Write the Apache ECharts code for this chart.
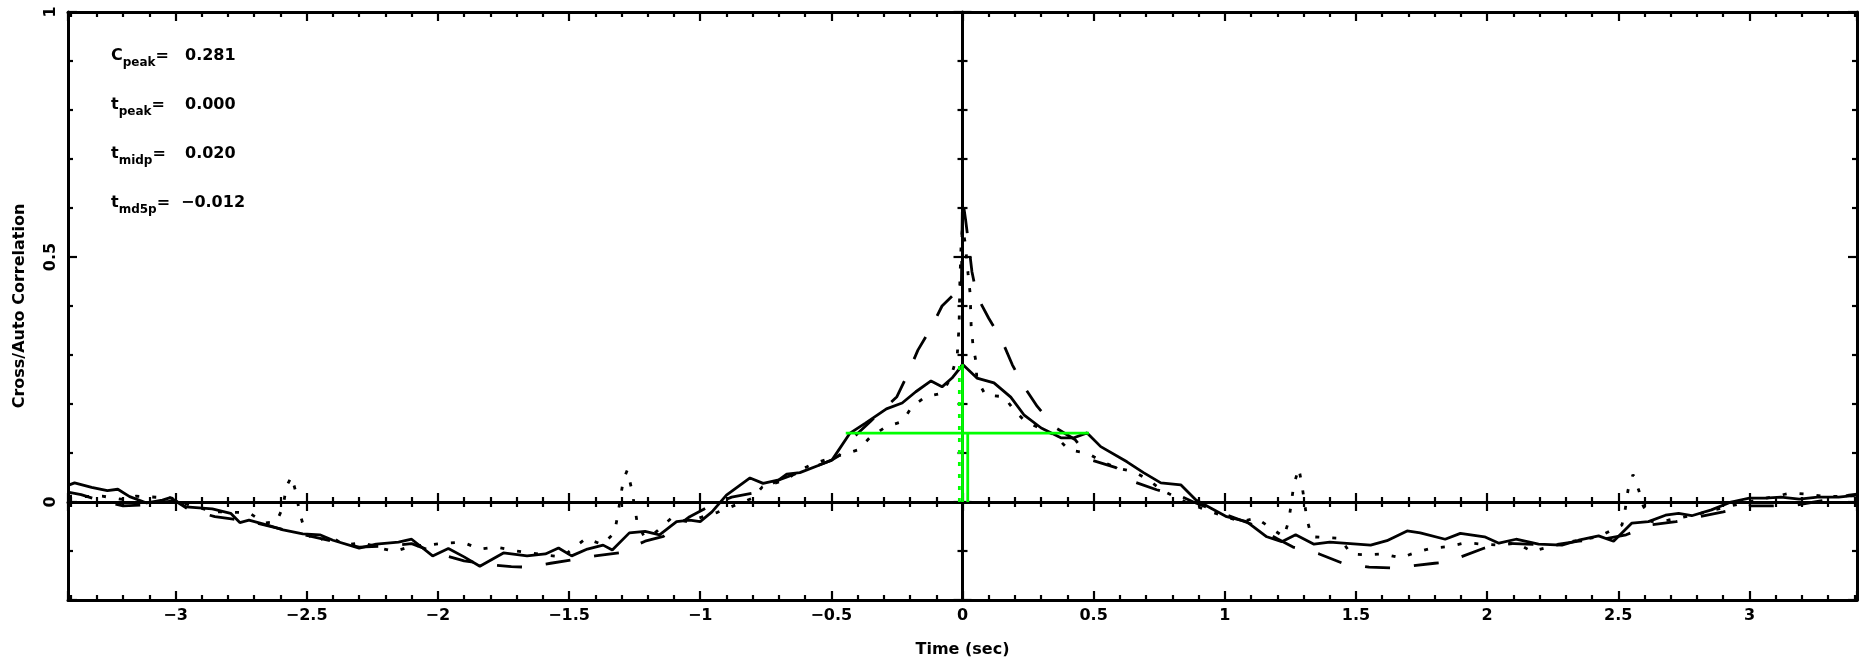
<!DOCTYPE html>
<html>
<head>
    <meta charset="UTF-8">
    <title>Cross/Auto Correlation</title>
    <script src="https://cdn.jsdelivr.net/npm/echarts@6.0.0/dist/echarts.min.js"></script>
    <style>
        html, body { margin: 0; padding: 0; background: #fff; }
        #chart { width: 1863px; height: 667px; }
    </style>
</head>
<body>
<div id="chart"></div>
<script type="text/javascript">
    // axis ranges
    var tMin = -3.41, tMax = 3.41;
    var cMin = -0.2, cMax = 1;

    // cross correlation (solid), [lag sec, value]
    var ccfSolid = [
        [-3.41, 0.034], [-3.385, 0.039], [-3.32, 0.03], [-3.26, 0.023], [-3.22, 0.026], [-3.175, 0.011],
        [-3.11, -0.002], [-3.05, 0.004], [-3.02, 0.009], [-2.96, -0.01], [-2.86, -0.014], [-2.79, -0.023],
        [-2.755, -0.042], [-2.72, -0.037], [-2.65, -0.047], [-2.59, -0.057], [-2.515, -0.065], [-2.45, -0.067],
        [-2.40, -0.078], [-2.30, -0.094], [-2.235, -0.086], [-2.15, -0.082], [-2.10, -0.076], [-2.02, -0.11],
        [-1.96, -0.095], [-1.90, -0.112], [-1.84, -0.131], [-1.75, -0.104], [-1.66, -0.11], [-1.59, -0.106],
        [-1.54, -0.094], [-1.49, -0.11], [-1.43, -0.096], [-1.37, -0.088], [-1.335, -0.098], [-1.27, -0.063],
        [-1.21, -0.06], [-1.155, -0.067], [-1.09, -0.04], [-1.04, -0.037], [-1.0, -0.04], [-0.955, -0.02],
        [-0.90, 0.014], [-0.81, 0.049], [-0.76, 0.038], [-0.70, 0.045], [-0.67, 0.057], [-0.62, 0.06],
        [-0.547, 0.075], [-0.497, 0.086], [-0.43, 0.14], [-0.37, 0.161], [-0.29, 0.19], [-0.23, 0.202],
        [-0.178, 0.225], [-0.12, 0.247], [-0.078, 0.235], [-0.04, 0.253], [-0.007, 0.275], [0, 0.281],
        [0.055, 0.253], [0.12, 0.243], [0.184, 0.214], [0.234, 0.178], [0.30, 0.151], [0.375, 0.131],
        [0.425, 0.131], [0.475, 0.141], [0.527, 0.113], [0.627, 0.082], [0.69, 0.06], [0.756, 0.039],
        [0.832, 0.035], [0.89, 0.004], [1.007, -0.03], [1.083, -0.04], [1.16, -0.071], [1.217, -0.081],
        [1.27, -0.067], [1.34, -0.086], [1.40, -0.082], [1.556, -0.088], [1.618, -0.079], [1.695, -0.059],
        [1.745, -0.063], [1.84, -0.076], [1.898, -0.064], [1.99, -0.071], [2.045, -0.084], [2.11, -0.076],
        [2.196, -0.086], [2.285, -0.088], [2.349, -0.078], [2.425, -0.069], [2.482, -0.08], [2.552, -0.043],
        [2.615, -0.04], [2.68, -0.027], [2.73, -0.023], [2.78, -0.028], [2.855, -0.016], [2.93, 0],
        [3.0, 0.008], [3.06, 0.008], [3.12, 0.01], [3.19, 0.006], [3.26, 0.01], [3.34, 0.01], [3.41, 0.014]
    ];

    // auto correlation band 1 (dashed)
    var acfDashed = [
        [-3.41, 0.02], [-3.36, 0.015], [-3.3, 0.005], [-3.2, -0.008], [-3.12, -0.006], [-3.05, 0.0],
        [-3.0, 0.002], [-2.95, -0.015], [-2.85, -0.03], [-2.78, -0.035], [-2.7, -0.042], [-2.6, -0.055],
        [-2.5, -0.068], [-2.4, -0.08], [-2.3, -0.092], [-2.2, -0.09], [-2.1, -0.085], [-2.0, -0.105],
        [-1.9, -0.12], [-1.8, -0.128], [-1.72, -0.132], [-1.66, -0.133], [-1.57, -0.125], [-1.49, -0.118],
        [-1.40, -0.11], [-1.31, -0.104], [-1.21, -0.08], [-1.14, -0.07], [-1.04, -0.03], [-0.97, -0.01],
        [-0.88, 0.01], [-0.78, 0.02], [-0.7, 0.045], [-0.6, 0.065], [-0.5, 0.085], [-0.47, 0.095],
        [-0.45, 0.11], [-0.4, 0.14], [-0.35, 0.165], [-0.3, 0.19], [-0.25, 0.215], [-0.21, 0.26],
        [-0.17, 0.31], [-0.12, 0.355], [-0.078, 0.40], [-0.04, 0.42], [-0.013, 0.41], [-0.012, 0.43],
        [-0.004, 0.45], [0, 0.62], [0.012, 0.575], [0.025, 0.52], [0.036, 0.47], [0.055, 0.42],
        [0.1, 0.375], [0.15, 0.33], [0.19, 0.28], [0.235, 0.235], [0.285, 0.195], [0.35, 0.153],
        [0.43, 0.127], [0.49, 0.086], [0.585, 0.07], [0.66, 0.04], [0.74, 0.025], [0.84, 0.01],
        [0.88, 0.0], [0.95, -0.015], [1.0, -0.025], [1.1, -0.045], [1.2, -0.075], [1.26, -0.092],
        [1.36, -0.106], [1.45, -0.125], [1.55, -0.133], [1.65, -0.135], [1.72, -0.13], [1.8, -0.125],
        [1.855, -0.122], [1.9, -0.112], [1.99, -0.094], [2.06, -0.084], [2.15, -0.086], [2.25, -0.088],
        [2.35, -0.08], [2.45, -0.075], [2.53, -0.067], [2.62, -0.047], [2.72, -0.04], [2.81, -0.03],
        [2.9, -0.02], [3.0, -0.008], [3.09, -0.008], [3.18, -0.006], [3.29, 0.004], [3.38, 0.014], [3.41, 0.016]
    ];

    // auto correlation band 2 (dotted)
    var acfDotted = [
        [-3.41, 0.012], [-3.346, 0.011], [-3.28, 0.012], [-3.2, 0.005], [-3.15, 0.012], [-3.015, 0.008],
        [-2.93, -0.01], [-2.84, -0.02], [-2.72, -0.022], [-2.66, -0.043], [-2.615, -0.04], [-2.59, -0.01],
        [-2.578, 0.031], [-2.558, 0.052], [-2.54, 0.018], [-2.528, -0.02], [-2.51, -0.053], [-2.47, -0.082],
        [-2.413, -0.069], [-2.356, -0.088], [-2.287, -0.083], [-2.22, -0.094], [-2.166, -0.101], [-2.1, -0.09],
        [-2.045, -0.088], [-1.975, -0.084], [-1.906, -0.082], [-1.84, -0.096], [-1.78, -0.092], [-1.70, -0.1],
        [-1.594, -0.108], [-1.525, -0.112], [-1.435, -0.074], [-1.373, -0.087], [-1.327, -0.063], [-1.315, -0.029],
        [-1.293, 0.045], [-1.278, 0.065], [-1.262, 0.028], [-1.25, -0.009], [-1.24, -0.043], [-1.213, -0.071],
        [-1.168, -0.061], [-1.11, -0.033], [-1.05, -0.04], [-0.934, -0.021], [-0.80, 0.008], [-0.763, 0.031],
        [-0.673, 0.045], [-0.63, 0.062], [-0.578, 0.076], [-0.5, 0.09], [-0.40, 0.106], [-0.35, 0.133],
        [-0.29, 0.154], [-0.23, 0.164], [-0.192, 0.195], [-0.14, 0.215], [-0.078, 0.222], [-0.045, 0.253],
        [-0.02, 0.30], [-0.013, 0.36], [-0.01, 0.45], [-0.005, 0.53], [0, 0.56], [0.01, 0.53],
        [0.021, 0.467], [0.029, 0.426], [0.033, 0.36], [0.04, 0.32], [0.05, 0.29], [0.055, 0.25],
        [0.088, 0.218], [0.158, 0.215], [0.196, 0.188], [0.24, 0.164], [0.35, 0.137], [0.406, 0.106],
        [0.475, 0.1], [0.527, 0.084], [0.59, 0.069], [0.653, 0.062], [0.71, 0.045], [0.76, 0.024],
        [0.85, 0.0], [0.947, -0.02], [1.06, -0.04], [1.12, -0.033], [1.225, -0.071], [1.244, -0.038],
        [1.263, 0.035], [1.282, 0.069], [1.294, 0.035], [1.313, -0.035], [1.331, -0.071], [1.44, -0.074],
        [1.48, -0.106], [1.54, -0.108], [1.605, -0.106], [1.67, -0.114], [1.727, -0.103], [1.79, -0.094],
        [1.853, -0.091], [1.918, -0.083], [1.98, -0.086], [2.05, -0.088], [2.114, -0.084], [2.17, -0.101],
        [2.24, -0.091], [2.33, -0.08], [2.425, -0.071], [2.514, -0.047], [2.527, -0.013], [2.537, 0.024],
        [2.556, 0.056], [2.578, 0.024], [2.595, -0.008], [2.627, -0.04], [2.69, -0.037], [2.8, -0.025],
        [2.91, -0.01], [3.047, 0.006], [3.156, 0.018], [3.22, 0.016], [3.29, 0.011], [3.366, 0.012], [3.41, 0.013]
    ];

    // peak measures
    var cPeak = 0.281, tPeak = 0.000, tMidp = 0.020, tMd5p = -0.012;
    var halfLeft = -0.445, halfRight = 0.482;

    var fontFam = 'DejaVu Sans, Verdana, sans-serif';

    function minus(s) {
        return String(s).replace('-', '\u2212');
    }

    // axis helpers
    function xAx(pos, opts) {
        return {
            type: 'value', min: tMin, max: tMax, splitNumber: 14, position: pos,
            axisLine: {show: opts.line, onZero: opts.onZero, onZeroAxisIndex: 0, lineStyle: {color: '#000', width: 3}},
            axisTick: {show: true, inside: opts.inside, length: 9, lineStyle: {color: '#000', width: 2.2}},
            minorTick: {show: true, splitNumber: 5, length: 5, lineStyle: {color: '#000', width: 2.2}},
            axisLabel: {show: false},
            splitLine: {show: false}
        };
    }

    function yAx(pos, opts) {
        return {
            type: 'value', min: cMin, max: cMax, splitNumber: 2, position: pos,
            axisLine: {show: opts.line, onZero: opts.onZero, onZeroAxisIndex: 0, lineStyle: {color: '#000', width: 3}},
            axisTick: {show: true, inside: opts.inside, length: 9, lineStyle: {color: '#000', width: 2.2}},
            minorTick: {show: true, splitNumber: 5, length: 5, lineStyle: {color: '#000', width: 2.2}},
            axisLabel: {show: false},
            splitLine: {show: false}
        };
    }

    var labelFont = {color: '#000', fontSize: 16, fontWeight: 'bold', fontFamily: fontFam};

    var xBottom = xAx('bottom', {line: true, onZero: false, inside: true});
    xBottom.axisLabel = Object.assign({
        show: true, showMinLabel: false, showMaxLabel: false, margin: 8,
        formatter: function (v) { return minus(v); }
    }, labelFont);
    xBottom.name = 'Time (sec)';
    xBottom.nameLocation = 'middle';
    xBottom.nameGap = 42;
    xBottom.nameTextStyle = labelFont;

    var yLeft = yAx('left', {line: true, onZero: false, inside: true});
    yLeft.axisLabel = Object.assign({show: true, showMinLabel: false, rotate: 90, margin: 9}, labelFont);
    yLeft.name = 'Cross/Auto Correlation';
    yLeft.nameLocation = 'middle';
    yLeft.nameRotate = 90;
    yLeft.nameGap = 40;
    yLeft.nameTextStyle = labelFont;

    var lineBase = {type: 'line', xAxisIndex: 0, yAxisIndex: 0, showSymbol: false, symbol: 'none', silent: true};

    function series(name, data, color, type, z) {
        return Object.assign({}, lineBase, {
            name: name, data: data, z: z,
            lineStyle: {color: color, width: 2.8, type: type}
        });
    }

    var green = '#00ff00';

    // text block at top left
    var notes = [
        ['C', 'peak', cPeak],
        ['t', 'peak', tPeak],
        ['t', 'midp', tMidp],
        ['t', 'md5p', tMd5p]
    ];

    var noteRich = {
        m: {fontSize: 16, fontWeight: 'bold', fontFamily: fontFam, fill: '#000', verticalAlign: 'top'},
        s: {fontSize: 12, fontWeight: 'bold', fontFamily: fontFam, fill: '#000', verticalAlign: 'top', padding: [9, 0, 0, 0]}
    };

    var graphics = [];
    notes.forEach(function (n, i) {
        var val = n[2] < 0 ? '\u2212' + Math.abs(n[2]).toFixed(3) : n[2].toFixed(3);
        graphics.push({
            type: 'text', x: 111, y: 48 + i * 49, silent: true,
            style: {text: '{m|' + n[0] + '}{s|' + n[1] + '}{m|=}', rich: noteRich, align: 'left', verticalAlign: 'top'}
        });
        graphics.push({
            type: 'text', x: n[2] < 0 ? 181 : 185, y: 48 + i * 49, silent: true,
            style: {text: '{m|' + val + '}', rich: noteRich, align: 'left', verticalAlign: 'top'}
        });
    });

    var option = {
        animation: false,
        backgroundColor: '#fff',
        textStyle: {fontFamily: fontFam},
        grid: {left: 68, right: 6, top: 12, bottom: 67, containLabel: false, outerBoundsMode: 'none'},
        xAxis: [
            xBottom,
            xAx('top', {line: true, onZero: false, inside: true}),
            xAx('top', {line: true, onZero: true, inside: false}),
            xAx('bottom', {line: false, onZero: true, inside: false})
        ],
        yAxis: [
            yLeft,
            yAx('right', {line: true, onZero: false, inside: true}),
            yAx('left', {line: true, onZero: true, inside: false}),
            yAx('right', {line: false, onZero: true, inside: false})
        ],
        graphic: graphics,
        series: [
            series('ccf', ccfSolid, '#000', 'solid', 3),
            series('acf1', acfDashed, '#000', [25, 24], 3),
            series('acf2', acfDotted, '#000', [4, 13], 3),
            series('peak', [[tPeak, 0], [tPeak, cPeak]], green, 'solid', 5),
            series('md5p', [[tMd5p, 0], [tMd5p, cPeak]], green, [4, 8], 5),
            series('half', [[halfLeft, cPeak / 2], [halfRight, cPeak / 2]], green, 'solid', 5),
            series('midp', [[tMidp, 0], [tMidp, cPeak / 2]], green, 'solid', 5)
        ]
    };

    var myChart = echarts.init(document.getElementById('chart'));
    option && myChart.setOption(option);
</script>
</body>
</html>
